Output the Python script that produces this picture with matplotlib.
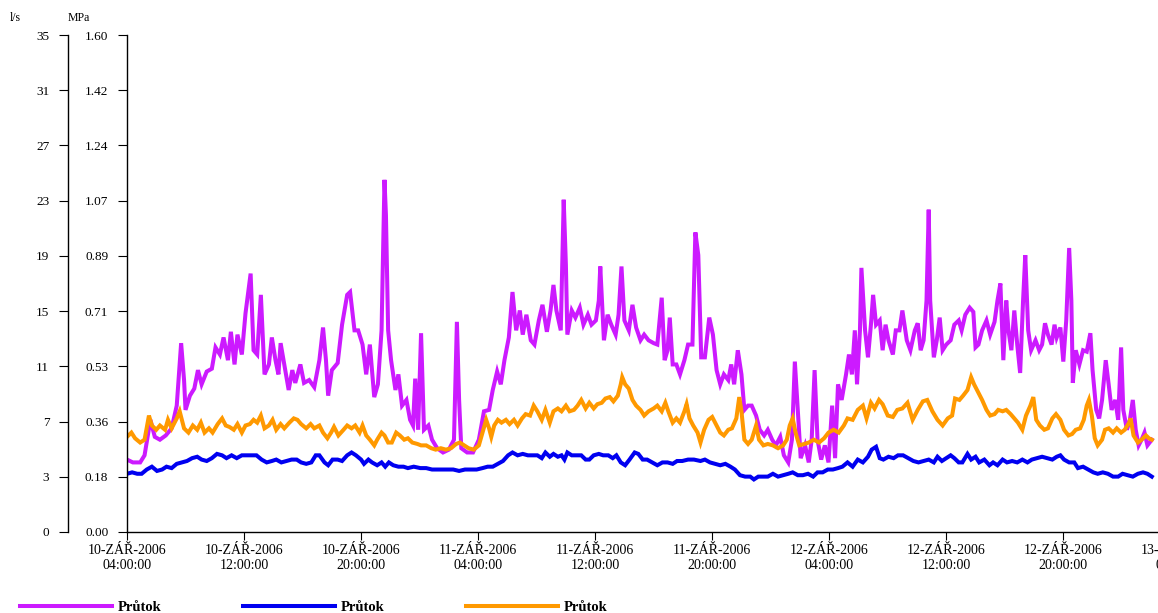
import matplotlib
matplotlib.use("Agg")
import matplotlib.pyplot as plt
import matplotlib.dates as mdates
from matplotlib.ticker import FixedLocator, FuncFormatter
import numpy as np
import pandas as pd

plt.rcParams['font.family'] = ['Liberation Serif', 'DejaVu Serif']

START = pd.Timestamp('2006-09-10 04:00')
SPAN_H = 72.66          # hours on the time axis (runs past the right edge)

# --- flow series, l/s, time in hours since START ---------------------------
mag_h = [0.0, 0.4, 0.9, 1.2, 1.6, 1.9, 2.25, 2.65, 3.05, 3.4, 3.7, 3.9, 4.0, 4.3,
         4.6, 4.85, 5.1, 5.45, 5.8, 6.05, 6.35, 6.6, 6.9, 7.1, 7.35, 7.55, 7.85,
         8.1, 8.45, 8.65, 8.9, 9.15, 9.4, 9.7, 9.9, 10.15, 10.35, 10.5, 10.75,
         11.05, 11.3, 11.5, 11.85, 12.1, 12.45, 12.8, 13.15, 13.4, 13.6, 13.75,
         14.0, 14.4, 14.7, 15.05, 15.25, 15.55, 15.8, 16.1, 16.35, 16.6, 16.9,
         17.15, 17.4, 17.6, 17.7, 17.85, 18.05, 18.35, 18.55, 18.8, 19.1, 19.35,
         19.55, 19.7, 19.9, 20.1, 20.3, 20.6, 20.85, 21.2, 21.6, 22.0, 22.35,
         22.55, 22.7, 22.85, 23.25, 23.65, 24.05, 24.4, 24.75, 25.0, 25.3, 25.55,
         25.8, 26.1, 26.35, 26.6, 26.85, 27.05, 27.3, 27.6, 27.85, 28.15, 28.4,
         28.7, 28.95, 29.15, 29.35, 29.65, 29.85, 30.0, 30.1, 30.4, 30.65, 30.95,
         31.2, 31.5, 31.75, 32.05, 32.25, 32.35, 32.6, 32.85, 33.1, 33.4, 33.6,
         33.8, 34.0, 34.3, 34.55, 34.8, 35.1, 35.35, 35.65, 36.0, 36.25, 36.55,
         36.75, 36.95, 37.1, 37.3, 37.55, 37.8, 38.1, 38.35, 38.65, 38.85, 39.05,
         39.25, 39.5, 39.8, 40.05, 40.3, 40.55, 40.8, 41.1, 41.3, 41.5, 41.75,
         42.0, 42.2, 42.45, 42.7, 43.0, 43.25, 43.55, 43.8, 44.1, 44.35, 44.65,
         44.9, 45.2, 45.45, 45.65, 45.85, 46.05, 46.35, 46.6, 46.8, 47.0, 47.2,
         47.45, 47.7, 47.95, 48.2, 48.4, 48.6, 48.85, 49.15, 49.35, 49.55, 49.75,
         49.9, 50.1, 50.2, 50.45, 50.65, 50.85, 51.0, 51.2, 51.45, 51.65, 51.85,
         52.05, 52.35, 52.55, 52.8, 53.0, 53.3, 53.55, 53.85, 54.05, 54.25, 54.45,
         54.65, 54.8, 54.9, 55.15, 55.35, 55.55, 55.75, 56.0, 56.3, 56.55, 56.85,
         57.05, 57.3, 57.6, 57.85, 58.0, 58.2, 58.45, 58.75, 59.0, 59.3, 59.5,
         59.7, 59.9, 60.1, 60.25, 60.45, 60.65, 60.85, 61.05, 61.25, 61.4, 61.6,
         61.8, 62.1, 62.35, 62.55, 62.75, 62.95, 63.2, 63.4, 63.55, 63.8, 64.0,
         64.2, 64.4, 64.55, 64.65, 64.85, 65.1, 65.35, 65.6, 65.85, 66.0, 66.25,
         66.45, 66.65, 66.9, 67.1, 67.3, 67.55, 67.75, 67.95, 68.1, 68.35, 68.55,
         68.75, 68.95, 69.15, 69.35, 69.55, 69.75, 70.05]
mag_v = [5.1, 4.9, 4.9, 5.4, 7.9, 6.7, 6.5, 6.8, 7.3, 8.9, 13.3, 10.7, 8.6, 9.6,
         10.1, 11.4, 10.4, 11.3, 11.5, 13.0, 12.5, 13.7, 12.1, 14.1, 11.8, 13.9, 12.5,
         15.4, 18.2, 12.8, 12.5, 16.7, 11.1, 11.8, 13.7, 12.1, 11.1, 13.3, 11.8,
         10.0, 11.4, 10.5, 11.8, 10.5, 10.7, 10.2, 12.1, 14.4, 12.1, 9.6,
         11.4, 11.9, 14.6, 16.7, 16.9, 14.2, 14.2, 13.2, 11.1, 13.2, 9.5,
         10.4, 14.2, 24.8, 22.3, 14.2, 12.1, 10.0, 11.1, 8.9, 9.3, 7.9,
         7.5, 10.8, 7.2, 14.0, 7.2, 7.5, 6.5, 5.9, 5.6, 5.8, 6.5,
         14.8, 9.3, 5.9, 5.6, 5.6, 6.5, 8.5, 8.6, 10.0, 11.3, 10.4,
         12.1, 13.7, 16.9, 14.2, 15.6, 13.9, 15.3, 13.5, 13.2, 14.9, 16.0,
         14.1, 15.6, 17.4, 15.6, 14.2, 23.4, 18.8, 13.9, 15.6, 15.1, 15.8,
         14.6, 15.3, 14.6, 14.9, 16.3, 18.7, 13.5, 15.3, 14.6, 13.9, 15.3,
         18.7, 14.9, 14.2, 16.0, 14.4, 13.5, 13.9, 13.5, 13.3, 13.2, 16.5,
         12.1, 12.8, 15.1, 11.8, 11.8, 11.1, 12.1, 13.2, 13.2, 21.1, 19.5,
         12.3, 12.3, 15.1, 13.9, 11.4, 10.4, 11.1, 10.7, 11.8, 10.4, 12.8,
         11.1, 8.6, 8.9, 8.9, 8.2, 7.2, 6.8, 7.2, 6.5, 6.1, 6.7,
         5.4, 4.9, 6.5, 12.0, 8.6, 5.2, 6.1, 4.9, 6.5, 11.4, 6.5,
         5.1, 6.1, 4.9, 8.9, 5.2, 10.4, 9.3, 11.1, 12.5, 11.1, 14.2,
         10.4, 14.2, 18.6, 14.2, 12.3, 14.6, 16.7, 14.6, 14.9, 12.8, 14.6,
         13.5, 12.5, 14.2, 14.2, 15.6, 13.5, 12.8, 14.2, 14.7, 12.8, 13.5,
         16.3, 22.7, 16.3, 12.3, 13.5, 15.1, 12.8, 13.2, 13.5, 14.6, 14.9,
         14.2, 15.3, 15.8, 15.5, 13.0, 13.2, 14.2, 14.9, 13.9, 14.8, 16.3,
         17.5, 12.1, 16.3, 14.2, 12.8, 15.6, 13.2, 11.2, 16.3, 19.5, 14.2,
         12.8, 13.5, 12.8, 13.2, 14.7, 13.9, 13.2, 14.6, 13.7, 14.4, 12.0,
         14.9, 20.0, 16.3, 10.5, 12.8, 11.8, 12.8, 12.7, 14.0, 11.4, 8.6,
         8.0, 9.3, 12.1, 10.4, 8.6, 9.3, 7.9, 13.0, 8.6, 7.2, 7.9,
         9.3, 7.2, 6.1, 6.5, 7.0, 6.1, 6.5]

blu_h = [0.0, 0.35, 0.7, 1.0, 1.35, 1.7, 2.05, 2.4, 2.7, 3.05, 3.4, 3.75, 4.1,
         4.45, 4.8, 5.1, 5.45, 5.8, 6.15, 6.5, 6.8, 7.15, 7.5, 7.85, 8.2, 8.5,
         8.85, 9.2, 9.55, 9.9, 10.2, 10.55, 10.9, 11.25, 11.6, 11.9, 12.25, 12.6,
         12.9, 13.15, 13.5, 13.75, 14.05, 14.4, 14.7, 15.05, 15.35, 15.65, 16.0,
         16.2, 16.5, 16.75, 17.1, 17.4, 17.65, 17.9, 18.2, 18.55, 18.9, 19.2,
         19.6, 20.05, 20.45, 20.85, 21.35, 21.8, 22.3, 22.7, 23.1, 23.5, 23.9,
         24.3, 24.65, 25.0, 25.35, 25.7, 26.05, 26.35, 26.7, 27.05, 27.4, 27.75,
         28.05, 28.35, 28.6, 28.9, 29.15, 29.45, 29.7, 29.9, 30.1, 30.4, 30.75,
         31.05, 31.35, 31.6, 31.9, 32.25, 32.55, 32.9, 33.2, 33.45, 33.75, 34.05,
         34.35, 34.7, 34.95, 35.25, 35.55, 35.9, 36.25, 36.6, 36.95, 37.3, 37.6,
         37.95, 38.35, 38.75, 39.2, 39.5, 39.85, 40.2, 40.55, 40.9, 41.25, 41.55,
         41.9, 42.25, 42.6, 42.85, 43.15, 43.5, 43.8, 44.15, 44.5, 44.85, 45.2,
         45.5, 45.85, 46.2, 46.55, 46.9, 47.2, 47.55, 47.9, 48.25, 48.6, 48.9,
         49.25, 49.6, 49.95, 50.3, 50.65, 50.9, 51.2, 51.45, 51.7, 52.05, 52.4,
         52.7, 53.05, 53.4, 53.75, 54.1, 54.45, 54.8, 55.15, 55.4, 55.7, 56.0,
         56.3, 56.55, 56.85, 57.1, 57.45, 57.7, 58.0, 58.25, 58.6, 58.95, 59.2,
         59.5, 59.85, 60.15, 60.5, 60.85, 61.2, 61.55, 61.85, 62.2, 62.55, 62.9,
         63.25, 63.55, 63.8, 64.05, 64.4, 64.75, 65.0, 65.35, 65.7, 66.05, 66.35,
         66.7, 67.05, 67.4, 67.75, 68.05, 68.4, 68.75, 69.1, 69.45, 69.75, 70.05]
blu_v = [4.1, 4.2, 4.1, 4.1, 4.4, 4.6, 4.3, 4.4, 4.6, 4.5, 4.8, 4.9, 5.0,
         5.2, 5.3, 5.1, 5.0, 5.2, 5.5, 5.4, 5.2, 5.4, 5.2, 5.4, 5.4, 5.4,
         5.4, 5.1, 4.9, 5.0, 5.1, 4.9, 5.0, 5.1, 5.1, 4.9, 4.8, 4.9,
         5.4, 5.4, 4.9, 4.7, 5.1, 5.1, 5.0, 5.4, 5.6, 5.4, 5.1,
         4.8, 5.1, 4.9, 4.7, 4.9, 4.6, 4.9, 4.7, 4.6, 4.6, 4.5,
         4.6, 4.5, 4.5, 4.4, 4.4, 4.4, 4.4, 4.3, 4.4, 4.4, 4.4,
         4.5, 4.6, 4.6, 4.8, 5.0, 5.4, 5.6, 5.4, 5.5, 5.4, 5.4,
         5.4, 5.2, 5.6, 5.3, 5.5, 5.3, 5.4, 5.1, 5.6, 5.4, 5.4,
         5.4, 5.1, 5.1, 5.4, 5.5, 5.4, 5.4, 5.2, 5.4, 4.9, 4.7,
         5.1, 5.6, 5.5, 5.1, 5.1, 4.9, 4.7, 4.9, 4.9, 4.8, 5.0,
         5.0, 5.1, 5.1, 5.0, 5.1, 4.9, 4.8, 4.7, 4.8, 4.6, 4.4,
         4.0, 3.9, 3.9, 3.7, 3.9, 3.9, 3.9, 4.1, 3.9, 4.0, 4.1,
         4.2, 4.0, 4.0, 4.1, 3.9, 4.2, 4.2, 4.4, 4.4, 4.5, 4.6,
         4.9, 4.6, 5.1, 4.9, 5.3, 5.8, 6.0, 5.2, 5.1, 5.3, 5.2,
         5.4, 5.4, 5.2, 5.0, 4.9, 5.0, 5.1, 4.9, 5.3, 5.0, 5.2,
         5.4, 5.2, 4.9, 4.9, 5.5, 5.1, 5.3, 4.9, 5.1, 4.7, 4.9,
         4.7, 5.1, 4.9, 5.0, 4.9, 5.1, 4.9, 5.1, 5.2, 5.3, 5.2,
         5.1, 5.3, 5.4, 5.1, 4.9, 4.9, 4.5, 4.6, 4.4, 4.2, 4.1,
         4.2, 4.1, 3.9, 3.9, 4.1, 4.0, 3.9, 4.1, 4.2, 4.1, 3.9]

ora_h = [0.0, 0.3, 0.55, 0.9, 1.2, 1.5, 1.7, 2.0, 2.25, 2.6, 2.8, 3.05, 3.4, 3.6,
         3.9, 4.2, 4.5, 4.8, 5.05, 5.3, 5.6, 5.85, 6.2, 6.5, 6.75, 7.0, 7.3, 7.55,
         7.85, 8.1, 8.4, 8.65, 8.9, 9.15, 9.4, 9.7, 9.95, 10.2, 10.5, 10.75, 11.1,
         11.4, 11.65, 11.9, 12.25, 12.55, 12.8, 13.15, 13.4, 13.7, 13.95, 14.15,
         14.45, 14.8, 15.05, 15.35, 15.6, 15.9, 16.1, 16.35, 16.6, 16.9, 17.1,
         17.4, 17.6, 17.85, 18.1, 18.4, 18.65, 18.95, 19.2, 19.5, 19.85, 20.1,
         20.45, 20.8, 21.1, 21.45, 21.8, 22.15, 22.5, 22.75, 23.05, 23.35, 23.7,
         24.05, 24.3, 24.55, 24.75, 24.9, 25.1, 25.35, 25.6, 25.9, 26.15, 26.45,
         26.7, 27.0, 27.25, 27.55, 27.8, 28.05, 28.35, 28.6, 28.9, 29.15, 29.45,
         29.7, 30.0, 30.25, 30.55, 30.8, 31.05, 31.35, 31.6, 31.9, 32.15, 32.45,
         32.7, 33.0, 33.25, 33.55, 33.75, 33.85, 34.05, 34.3, 34.55, 34.8, 35.1,
         35.35, 35.65, 36.0, 36.25, 36.55, 36.8, 37.0, 37.3, 37.55, 37.8, 38.1,
         38.25, 38.45, 38.7, 39.0, 39.2, 39.45, 39.75, 40.0, 40.3, 40.55, 40.8,
         41.1, 41.35, 41.65, 41.85, 42.0, 42.2, 42.45, 42.7, 43.0, 43.2, 43.5,
         43.8, 44.15, 44.5, 44.85, 45.1, 45.3, 45.5, 45.7, 45.95, 46.3, 46.6,
         46.95, 47.3, 47.65, 47.95, 48.3, 48.65, 49.0, 49.25, 49.6, 49.95, 50.3,
         50.55, 50.85, 51.1, 51.4, 51.65, 52.0, 52.35, 52.65, 53.0, 53.35, 53.7,
         54.05, 54.4, 54.7, 55.05, 55.4, 55.75, 56.1, 56.4, 56.6, 56.9, 57.15,
         57.45, 57.7, 57.9, 58.2, 58.45, 58.75, 59.0, 59.3, 59.55, 59.85, 60.1,
         60.4, 60.65, 60.9, 61.2, 61.45, 61.75, 61.95, 62.15, 62.4, 62.7, 62.95,
         63.25, 63.5, 63.8, 64.05, 64.35, 64.6, 64.85, 65.15, 65.4, 65.6, 65.75,
         65.95, 66.15, 66.35, 66.65, 66.85, 67.1, 67.4, 67.65, 67.95, 68.2, 68.5,
         68.6, 68.8, 69.1, 69.35, 69.65, 69.85, 70.05]
ora_v = [6.7, 7.0, 6.6, 6.3, 6.5, 8.2, 7.5, 7.2, 7.5, 7.2, 7.9, 7.3, 8.0, 8.5,
         7.3, 7.0, 7.5, 7.2, 7.7, 7.0, 7.3, 7.0, 7.6, 8.0, 7.5, 7.4, 7.2, 7.6,
         7.0, 7.5, 7.6, 7.9, 7.7, 8.2, 7.3, 7.5, 7.9, 7.2, 7.6, 7.3, 7.7,
         8.0, 7.9, 7.6, 7.3, 7.6, 7.3, 7.5, 7.0, 6.6, 7.0, 7.4,
         6.8, 7.2, 7.5, 7.3, 7.5, 7.0, 7.5, 6.8, 6.5, 6.1, 6.5,
         7.0, 6.8, 6.3, 6.3, 7.0, 6.8, 6.5, 6.6, 6.3, 6.2, 6.1,
         6.1, 5.9, 5.8, 5.9, 5.8, 5.9, 6.2, 6.3, 6.1, 5.9, 5.8,
         6.1, 7.0, 7.9, 7.3, 6.7, 7.5, 7.9, 7.7, 7.9, 7.6, 7.9,
         7.5, 8.0, 8.3, 8.2, 8.9, 8.5, 7.9, 8.6, 7.7, 8.5, 8.7,
         8.5, 8.9, 8.5, 8.6, 8.9, 9.3, 8.7, 9.1, 8.7, 9.0, 9.1,
         9.4, 9.5, 9.2, 9.6, 10.4, 10.9, 10.4, 10.1, 9.3, 8.9, 8.6,
         8.2, 8.5, 8.7, 8.9, 8.5, 9.1, 8.5, 7.7, 8.0, 7.7, 8.5,
         9.0, 8.0, 7.5, 7.0, 6.3, 7.2, 7.9, 8.1, 7.5, 7.0, 6.8,
         7.2, 7.3, 8.0, 9.5, 8.5, 6.5, 6.2, 6.5, 7.5, 6.5, 6.1,
         6.2, 6.1, 5.9, 6.1, 6.5, 7.5, 8.0, 7.0, 6.1, 6.2, 6.3,
         6.5, 6.3, 6.6, 7.0, 7.2, 7.0, 7.5, 8.0, 7.9, 8.6, 8.9,
         8.0, 9.1, 8.7, 9.3, 9.0, 8.2, 8.1, 8.6, 8.7, 9.1, 7.9,
         8.6, 9.2, 9.3, 8.5, 7.9, 7.5, 8.0, 8.2, 9.4, 9.3, 9.6,
         10.0, 10.9, 10.4, 9.8, 9.3, 8.6, 8.2, 8.3, 8.6, 8.5, 8.6,
         8.3, 8.0, 7.7, 7.2, 8.2, 8.9, 9.5, 7.9, 7.5, 7.2, 7.3,
         8.0, 8.3, 7.9, 7.2, 6.8, 6.9, 7.2, 7.3, 7.9, 8.9, 9.3,
         8.2, 6.6, 6.1, 6.5, 7.2, 7.3, 7.0, 7.3, 7.0, 7.2, 7.7,
         8.0, 6.8, 6.3, 6.5, 6.8, 6.6, 6.5]

series_labels = ['Průtok', 'Průtok', 'Průtok']
series_colors = ['#CC1AFF', '#0000F0', '#FF9900']

Y_MAX_LS = 35.0
Y_MAX_MPA = 1.60
N_STEPS = 9


def to_time(hours):
    return START + pd.to_timedelta(np.asarray(hours), unit='h')


W, H = 1158, 613
X0, X1 = 127, 1190      # axes spans past the right edge, like the original export
fig = plt.figure(figsize=(W / 100, H / 100), dpi=100)
ax = fig.add_axes([X0 / W, 1 - 532 / H, (X1 - X0) / W, (532 - 35) / H])

lines = []
for hh, vv, lab, col in [(mag_h, mag_v, series_labels[0], series_colors[0]),
                         (blu_h, blu_v, series_labels[1], series_colors[1]),
                         (ora_h, ora_v, series_labels[2], series_colors[2])]:
    ln, = ax.plot(to_time(hh), vv, color=col, lw=2.9, label=lab,
                  solid_joinstyle='miter')
    lines.append(ln)

ax.set_xlim(START, START + pd.Timedelta(hours=SPAN_H))
ax.set_ylim(0, Y_MAX_LS)

for s in ('top', 'right'):
    ax.spines[s].set_visible(False)
for s in ('left', 'bottom'):
    ax.spines[s].set_linewidth(1.0)

yt = np.linspace(0, Y_MAX_LS, N_STEPS + 1)
ax.yaxis.set_major_locator(FixedLocator(yt))
ax.yaxis.set_major_formatter(FuncFormatter(
    lambda v, p: f"{v * Y_MAX_MPA / Y_MAX_LS:.2f}"))
ax.tick_params(axis='y', direction='out', length=6.5, width=0.8, pad=7,
               labelsize=9.5)

# outer l/s scale
sec = ax.secondary_yaxis(-59 / (X1 - X0))
sec.set_yticks(yt)
sec.yaxis.set_major_formatter(FuncFormatter(lambda v, p: f"{int(v + 1e-9)}"))
sec.tick_params(axis='y', direction='out', length=6.5, width=0.8, pad=7,
                labelsize=9.5)
sec.spines['left'].set_linewidth(1.0)


def fmt_time(x, pos):
    d = mdates.num2date(x)
    return f"{d.day:02d}-ZÁŘ-{d.year}\n{d:%H:%M:%S}"


ax.xaxis.set_major_locator(mdates.HourLocator(byhour=[4, 12, 20]))
ax.xaxis.set_major_formatter(FuncFormatter(fmt_time))
ax.tick_params(axis='x', direction='out', length=6, width=0.8, pad=2.5,
               labelsize=10)
for t in ax.get_xticklabels():
    t.set_linespacing(1.2)

fig.text(10 / W, 1 - 18 / H, 'l/s', fontsize=8.5, va='center', ha='left')
fig.text(68 / W, 1 - 18 / H, 'MPa', fontsize=8.5, va='center', ha='left')

fig.legend(handles=lines, loc='center left', ncol=3,
           bbox_to_anchor=(20 / W, 1 - 607 / H), frameon=False,
           borderpad=0, borderaxespad=0, handlelength=6.3,
           handletextpad=0.4, columnspacing=5.6,
           prop={'weight': 'bold', 'size': 10.5})

fig.savefig('out.png', dpi=100)
